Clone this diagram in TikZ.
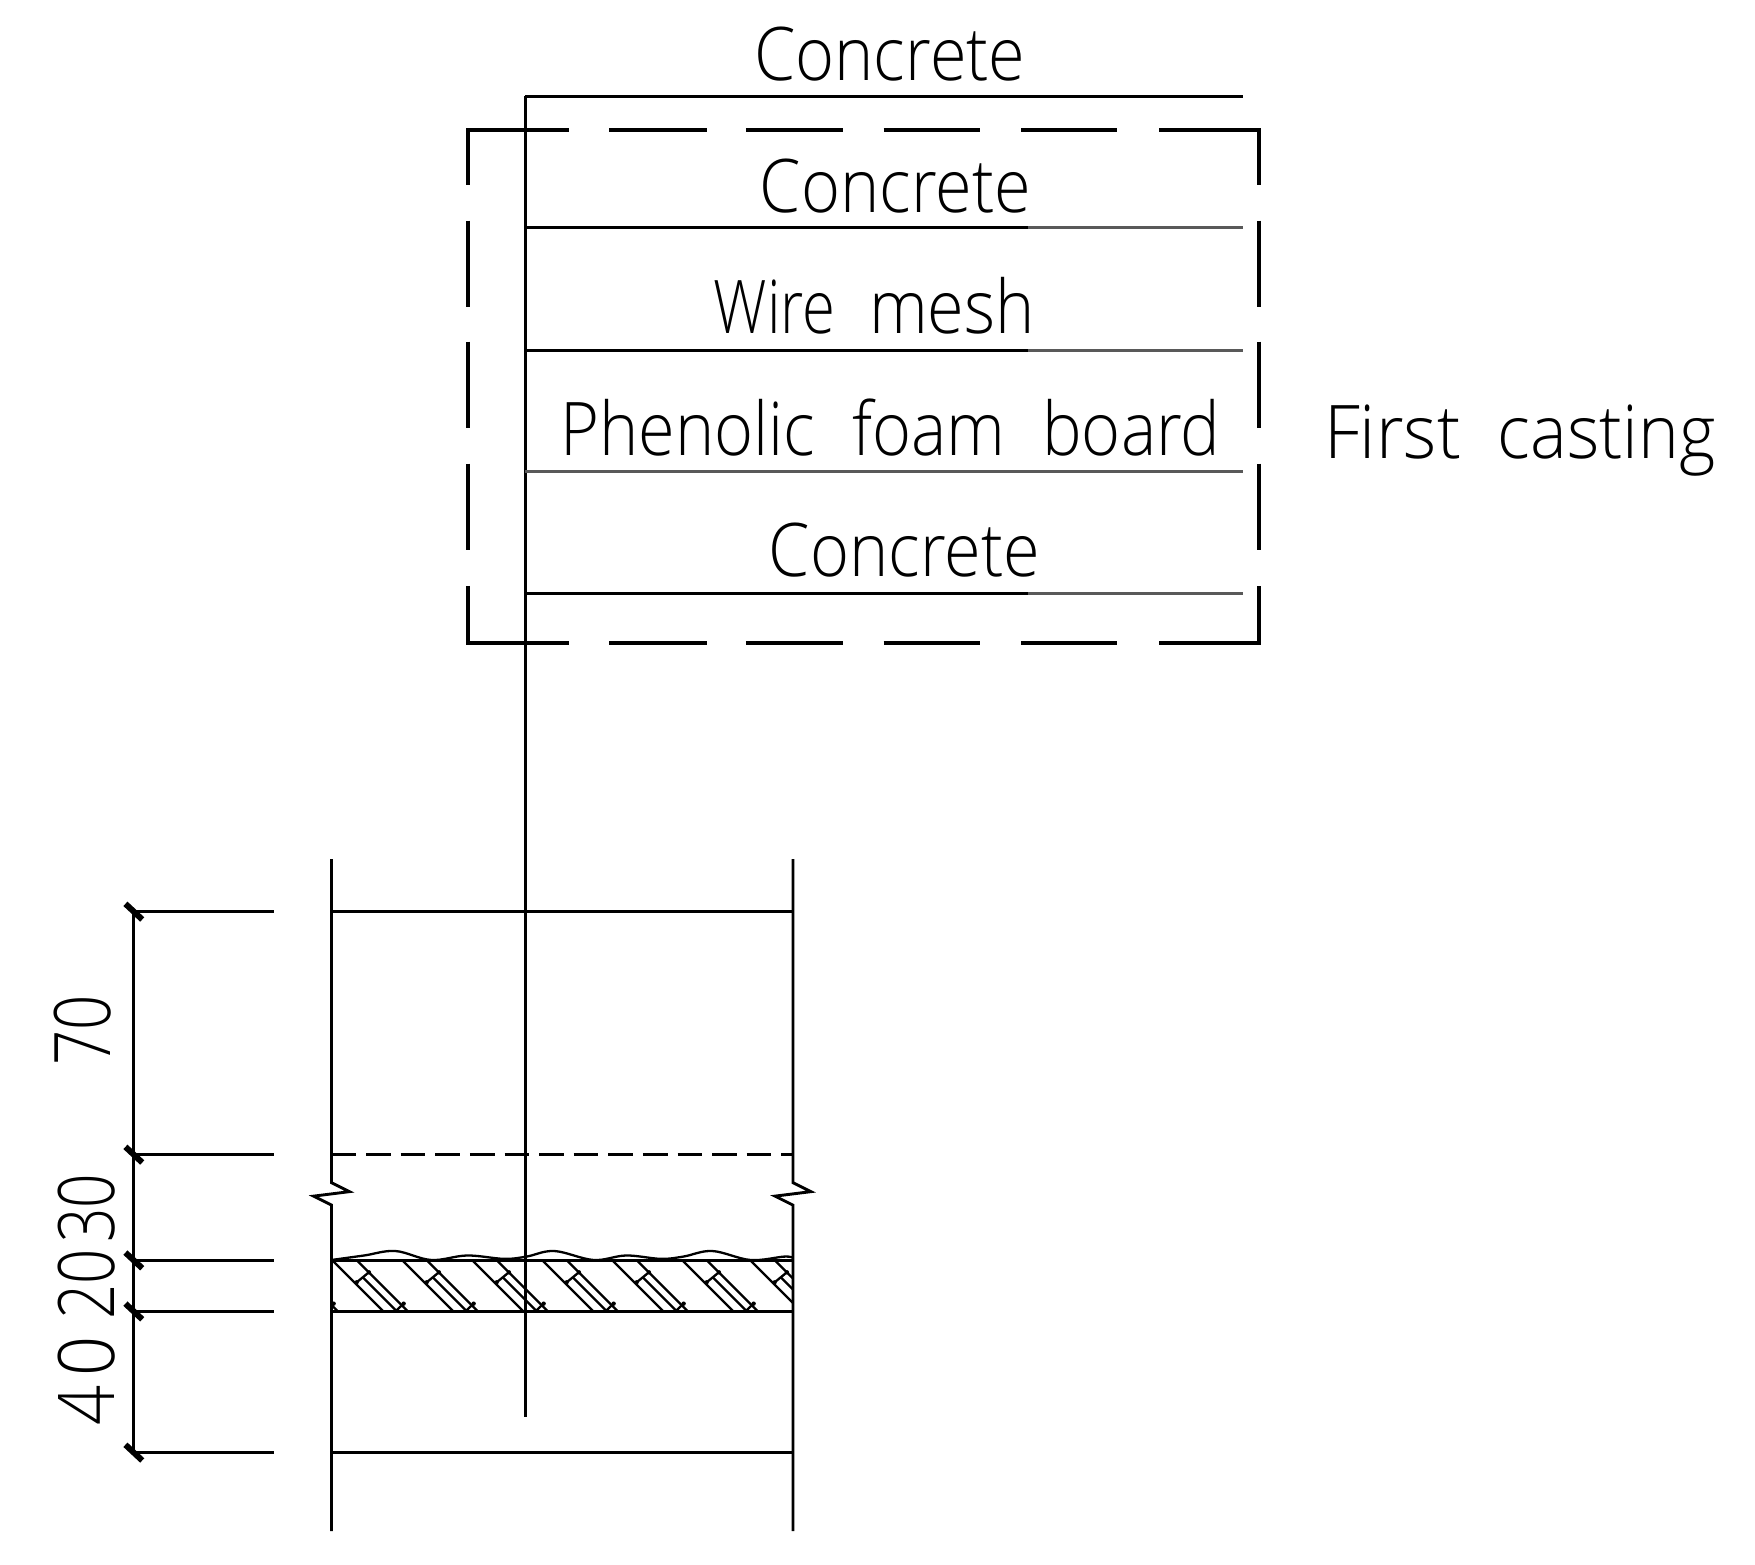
\documentclass[tikz,border=0pt]{standalone}
\usepackage{graphicx}
\usepackage{fontspec}
\newfontfamily\cad[FakeStretch=0.9]{Open Sans Light}
\tikzset{
  x=0.56pt,y=-0.56pt,
  ln/.style={line width=1.45pt,draw=black},
  thin ln/.style={line width=1.25pt,draw=black!65},
  hv/.style={line width=2.1pt,draw=black},
  hatchln/.style={line width=1.15pt,draw=black},
  lab/.style={font=\cad\fontsize{37}{37}\selectfont,anchor=base west,inner sep=0pt,text=black},
  rotlab/.style={font=\cad\fontsize{39}{39}\selectfont,anchor=base,inner sep=0pt,rotate=90,text=black},
}
\begin{document}
\begin{tikzpicture}
\useasboundingbox (0,0) rectangle (1567,1397.3);
% leader and layers
\draw[ln] (469,86)--(469,1265);
\draw[ln] (469,86)--(1110,86);
\foreach \y in {203,313,530}{
  \draw[thin ln] (469,\y)--(1110,\y);
  \draw[ln] (469,\y)--(918,\y);
}
\draw[thin ln] (469,421)--(1110,421);
% dashed frame
\draw[hv] (418,165)--(418,116)--(508,116);
\draw[hv] (1035,116)--(1124,116)--(1124,165);
\draw[hv] (418,523)--(418,574)--(508,574);
\draw[hv] (1035,574)--(1124,574)--(1124,523);
\foreach \a/\b in {544/631,666/753,789/875,912/997}{
  \draw[hv] (\a,116)--(\b,116);
  \draw[hv] (\a,574)--(\b,574);
}
\foreach \a/\b in {197/274,305/382,414/491}{
  \draw[hv] (418,\a)--(418,\b);
  \draw[hv] (1124,\a)--(1124,\b);
}
% labels
\node[lab] (c1) at (673,72) {Concrete};
\node[lab] (c2) at (678,190) {Concrete};
\node[lab] (w) at (637,298) {\scalebox{0.9}[1]{Wire}\hspace{0.45em}mesh};
\node[lab] (p) at (500,407) {Phenolic\hspace{0.5em}foam\hspace{0.5em}board};
\node[lab] (f) at (1182,409) {\scalebox{1.07}[1]{First}\hspace{0.5em}\scalebox{1.04}[1]{casting}};
\node[lab] (c3) at (686,515) {Concrete};
% section
\draw[ln] (296,767)--(296,1056)--(312,1064)--(280,1068)--(296,1076)--(296,1367);
\draw[ln] (708,767)--(708,1056)--(724,1064)--(692,1068)--(708,1076)--(708,1367);
\draw[ln] (296,814)--(708,814);
\draw[ln,dash pattern=on 12.3pt off 5pt] (296,1031)--(708,1031);
\draw[ln] (296,1125.4)--(708,1125.4);
\draw[ln] (296,1171)--(708,1171);
\draw[ln] (296,1297)--(708,1297);
% hatching
\begin{scope}
\clip (296,1125) rectangle (708,1171);
\foreach \x in {233.9,296.4,358.9,421.4,483.9,546.4,608.9,669.6}{
  \draw[hatchln] (\x,1125)--(\x+46,1171);
  \draw[hatchln] (\x+22,1125)--(\x+68,1171);
  \draw[hatchln] (\x+27.5,1140.5)--(\x+58,1171);
  \draw[hatchln] (\x+22,1145)--(\x+33,1136);
  \draw[hatchln] (\x+64,1164)--(\x+56.5,1171);
  \fill (\x+22,1145) circle[radius=1.1pt];
  \fill (\x+33,1136) circle[radius=1.1pt];
  \fill (\x+64,1164) circle[radius=1.1pt];
}
\end{scope}
\draw[hatchln] plot[smooth,tension=0.6] coordinates {(296,1125) (325,1121) (353,1117) (385,1125) (417,1121) (450,1124) (470,1122) (495,1117) (530,1125) (559,1121) (590,1124) (610,1122) (636,1117) (670,1125) (700,1122) (708,1123)};
% dimensions
\draw[ln] (119,813)--(119,1298);
\foreach \y in {814,1031,1125.4,1171,1297}{
  \draw[ln] (119,\y)--(245,\y);
  \draw[line width=3pt] (112,\y-7)--(127,\y+7);
}
\node[rotlab] (d70) at (99,920) {\scalebox{0.88}[1]{70}};
\node[rotlab] (d30) at (102,1079) {\scalebox{0.86}[1]{30}};
\node[rotlab] (d20) at (102,1147) {\scalebox{0.88}[1]{20}};
\node[rotlab] (d40) at (102,1233) {4\hspace{0.12em}0};
\end{tikzpicture}
\end{document}
